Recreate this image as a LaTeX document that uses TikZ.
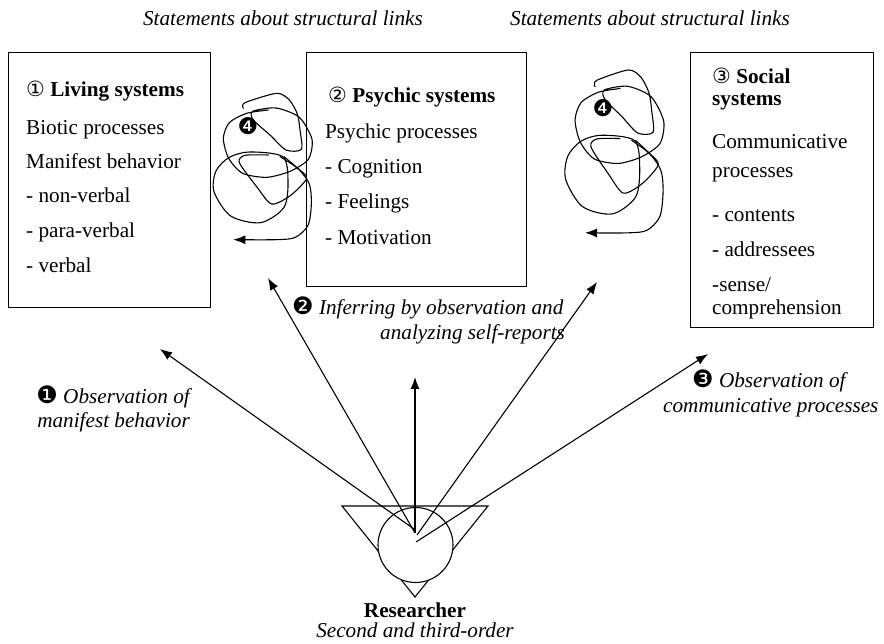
\documentclass[tikz,border=0pt]{standalone}
\usepackage{fontspec}
\setmainfont{Liberation Serif}
\newfontfamily\symfont{DejaVu Sans}
\usetikzlibrary{arrows.meta}
\newcommand\circnum[1]{{\symfont\fontsize{21}{22}\selectfont #1}}
\newcommand\negnum[1]{{\symfont\fontsize{24}{24}\selectfont #1}}
\begin{document}
\begin{tikzpicture}[x=1pt,y=-1pt,
  box/.style={draw, line width=1.1pt, anchor=north west, inner sep=0pt},
  txt/.style={anchor=base west, inner sep=0pt, font=\fontsize{21.2}{24}\selectfont},
  itl/.style={inner sep=0pt, font=\fontsize{21.2}{24}\selectfont\itshape},
  ray/.style={line width=1.1pt, -{Latex[length=12pt,width=9pt]}},
  scrib/.style={line width=1.1pt, line join=round, line cap=round},
  scribble/.pic={
    \draw[scrib] plot[smooth, tension=0.45] coordinates {(130,205) (135,188) (230,160) (268,180) (292,222) (300,270) (304,328) (258,330) (210,285) (160,240) (158,214) (228,204) (298,232) (336,298) (325,358) (270,394) (200,412) (128,400) (86,355) (70,295) (88,248) (140,220) (205,210)};
    \draw[scrib] plot[smooth cycle, tension=0.5] coordinates {(150,336) (248,350) (264,422) (252,502) (182,548) (92,528) (42,455) (48,393) (88,352)};
    \draw[scrib] plot[smooth, tension=0.45] coordinates {(205,345) (135,346) (118,368) (170,440) (215,492) (272,466) (320,415) (292,384) (252,350)};
    \draw[scrib, -{Latex[length=12pt,width=9pt]}] plot[smooth, tension=0.5] coordinates {(240,350) (294,386) (328,432) (334,492) (324,556) (286,592) (230,599) (100,599)};
  }
]
\useasboundingbox (0,0) rectangle (884,644);

% top captions
\node[itl, anchor=base] (cap1) at (283,26) {Statements about structural links};
\node[itl, anchor=base] (cap2) at (650,26) {Statements about structural links};

% boxes
\node[box, minimum width=202pt, minimum height=255pt] (b1) at (8,52) {};
\node[box, minimum width=220pt, minimum height=234pt] (b2) at (306,52) {};
\node[box, minimum width=183pt, minimum height=275pt] (b3) at (690,52) {};

% box 1 text
\node[txt] (b1l1) at (26,97) {\circnum{①} \textbf{Living systems}};
\node[txt] (b1l2) at (26,135) {Biotic processes};
\node[txt] (b1l3) at (26,169) {Manifest behavior};
\node[txt] (b1l4) at (26,203) {- non-verbal};
\node[txt] (b1l5) at (26,238) {- para-verbal};
\node[txt] (b1l6) at (26,273) {- verbal};

% box 2 text
\node[txt] (b2l1) at (328,103) {\circnum{②} \textbf{Psychic systems}};
\node[txt] (b2l2) at (325,139) {Psychic processes};
\node[txt] (b2l3) at (325,174) {- Cognition};
\node[txt] (b2l4) at (325,209) {- Feelings};
\node[txt] (b2l5) at (325,245) {- Motivation};

% box 3 text
\node[txt] (b3l1) at (712,84) {\circnum{③} \textbf{Social}};
\node[txt] (b3l2) at (712,106) {\textbf{systems}};
\node[txt] (b3l3) at (712,149) {Communicative};
\node[txt] (b3l4) at (712,178) {processes};
\node[txt] (b3l5) at (712,222) {- contents};
\node[txt] (b3l6) at (712,257) {- addressees};
\node[txt] (b3l7) at (712,292) {-sense/};
\node[txt] (b3l8) at (712,315) {comprehension};

% scribbles
\pic at (200,40) [xscale=1/3, yscale=1/3] {scribble};
\pic at (551.7,10.6) [xscale=1/3, yscale=0.371] {scribble};
\node[inner sep=0pt, font=\symfont\fontsize{23}{24}\selectfont] (f1) at (248,126) {❹};
\node[inner sep=0pt, font=\symfont\fontsize{23}{24}\selectfont] (f2) at (603,108) {❹};

% researcher
\draw[line width=1.1pt] (342,506) -- (488,506) -- (415,597) -- cycle;
\node[circle, draw, fill=white, line width=1.1pt, minimum size=75pt, inner sep=0pt] (res) at (415.5,545) {};

\coordinate (s1) at (414,529);
\coordinate (s2) at (415,533);
\coordinate (s3) at (415,533);
\coordinate (s4) at (417,535);
\coordinate (s5) at (416,542);
\coordinate (t1) at (160,349);
\coordinate (t2) at (268,278);
\coordinate (t3) at (415,377);
\coordinate (t4) at (597,282);
\coordinate (t5) at (708,354);
\draw[ray] (s1) -- (t1);
\draw[ray] (s2) -- (t2);
\draw[ray] (s3) -- (t3);
\draw[ray] (s4) -- (t4);
\draw[ray] (s5) -- (t5);

% labels
\node[itl, anchor=base east] (la1) at (190,403) {\negnum{❶} Observation of};
\node[itl, anchor=base east] (la2) at (190,427) {manifest behavior};
\node[itl, anchor=base west] (lb1) at (292,315) {\negnum{❷} Inferring by observation and};
\node[itl, anchor=base west] (lb2) at (380,340) {analyzing self-reports};
\node[itl, anchor=base west] (lc1) at (692,388) {\negnum{❸} Observation of};
\node[itl, anchor=base west] (lc2) at (663,413) {communicative processes};

\node[inner sep=0pt, anchor=base, font=\fontsize{21.2}{24}\selectfont\bfseries] (rn) at (415,617) {Researcher};
\node[itl, anchor=base] (rd) at (415,637) {Second and third-order};
\end{tikzpicture}
\end{document}
